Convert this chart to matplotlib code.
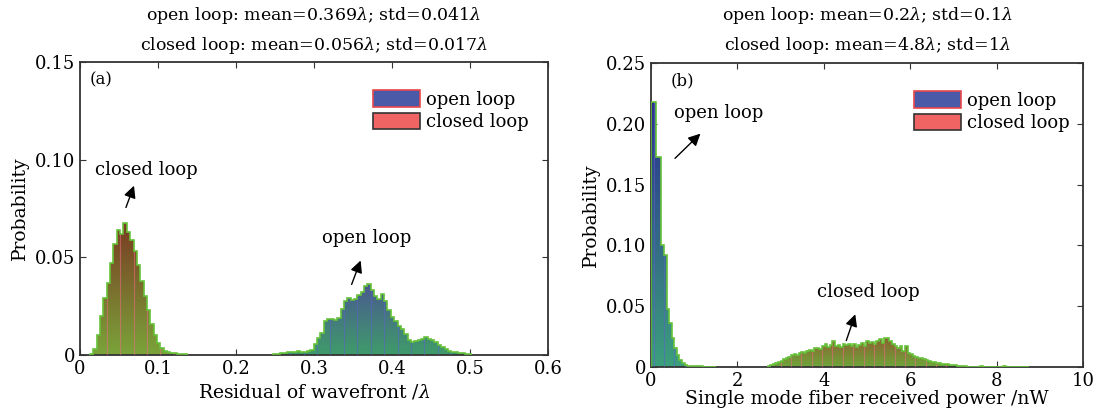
import numpy as np
import matplotlib
matplotlib.use("Agg")
import matplotlib.pyplot as plt
from matplotlib.patches import Patch, PathPatch
from matplotlib.path import Path
from matplotlib.colors import LinearSegmentedColormap
from matplotlib.ticker import FuncFormatter

plt.rcParams['font.family'] = ['DejaVu Serif']
plt.rcParams['mathtext.fontset'] = 'dejavuserif'

# ---- (a) residual of wavefront, bin width ~0.0043 lambda
a_bw = 0.0043
a_closed_start = 0.0128
a_closed = [0.0006, 0.0030, 0.0100, 0.0200, 0.0290, 0.0370, 0.0470, 0.0570, 0.0640,
            0.0620, 0.0678, 0.0630, 0.0590, 0.0530, 0.0460, 0.0380, 0.0300, 0.0230,
            0.0160, 0.0100, 0.0060, 0.0035, 0.0022, 0.0015, 0.0012, 0.0010, 0.0007,
            0.0005, 0.0004]
a_open_start = 0.2480
a_open = [0.0003, 0.0007, 0.0009, 0.0012, 0.0014, 0.0017, 0.0015, 0.0019, 0.0017,
          0.0015, 0.0019, 0.0026, 0.0055, 0.0085, 0.0115, 0.0175, 0.0186, 0.0183,
          0.0179, 0.0188, 0.0235, 0.0276, 0.0294, 0.0283, 0.0286, 0.0307, 0.0324,
          0.0355, 0.0362, 0.0335, 0.0300, 0.0289, 0.0312, 0.0278, 0.0232, 0.0195,
          0.0172, 0.0150, 0.0135, 0.0110, 0.0078, 0.0068, 0.0070, 0.0076, 0.0082,
          0.0090, 0.0080, 0.0075, 0.0065, 0.0052, 0.0040, 0.0030, 0.0022, 0.0017,
          0.0013, 0.0010, 0.0008, 0.0006, 0.0004]

# ---- (b) single mode fiber received power (nW), bin width 0.06
b_bw = 0.06
b_open_start = 0.0
b_open = [0.218, 0.218, 0.173, 0.173, 0.100, 0.092, 0.048, 0.036, 0.024, 0.0155,
          0.010, 0.006, 0.003, 0.002, 0.0012, 0.0010, 0.0008, 0.0006, 0.0005, 0.0004,
          0.0, 0.0003, 0.0, 0.0, 0.0002]
b_closed_start = 2.70
b_closed = [0.0008, 0.0015, 0.0025, 0.0035, 0.0045, 0.0050, 0.0062, 0.0075, 0.0085,
            0.0095, 0.0105, 0.0098, 0.0118, 0.0125, 0.0112, 0.0135, 0.0140, 0.0128,
            0.0155, 0.0160, 0.0148, 0.0175, 0.0190, 0.0168, 0.0180, 0.0214, 0.0170,
            0.0182, 0.0165, 0.0188, 0.0178, 0.0190, 0.0172, 0.0185, 0.0168, 0.0180,
            0.0200, 0.0176, 0.0214, 0.0195, 0.0205, 0.0188, 0.0210, 0.0227, 0.0200,
            0.0236, 0.0240, 0.0214, 0.0190, 0.0173, 0.0160, 0.0175, 0.0130, 0.0173,
            0.0118, 0.0110, 0.0090, 0.0085, 0.0077, 0.0070, 0.0063, 0.0058, 0.0050,
            0.0044, 0.0040, 0.0036, 0.0032, 0.0027, 0.0024, 0.0022, 0.0019, 0.0016,
            0.0013, 0.0010, 0.0008, 0.0006, 0.0004, 0.0003, 0.0002, 0.0, 0.0003, 0.0,
            0.0004, 0.0, 0.0, 0.0002, 0.0, 0.0, 0.0003, 0.0, 0.0, 0.0008, 0.0, 0.0,
            0.0, 0.0002, 0.0, 0.0, 0.0003, 0.0, 0.0002]

GREEN = '#66c23a'


def gradient_hist(ax, start, bw, heights, bottom_col, top_col, line_col):
    heights = np.asarray(heights)
    edges = start + bw * np.arange(len(heights) + 1)
    bars = ax.bar(edges[:-1], heights, width=bw, align='edge',
                  facecolor='none', edgecolor='none', zorder=3)
    path = Path.make_compound_path(
        *[b.get_path().transformed(b.get_patch_transform()) for b in bars])
    clip = PathPatch(path, transform=ax.transData, facecolor='none',
                     edgecolor='none')
    ax.add_patch(clip)
    cmap = LinearSegmentedColormap.from_list('g', [bottom_col, top_col])
    im = ax.imshow(np.linspace(0, 1, 256).reshape(-1, 1), cmap=cmap,
                   origin='lower', aspect='auto', zorder=2,
                   extent=[edges[0], edges[-1], 0, heights.max()])
    im.set_clip_path(clip)
    # a few bar edges show through, as in the original raster
    ax.vlines(edges[1:-1:4], 0, np.minimum(heights[:-1], heights[1:])[::4],
              color=line_col, linewidth=0.8, alpha=0.55, zorder=3)
    ax.stairs(heights, edges, color=GREEN, linewidth=1.2, zorder=4)


def style(ax, xlim, ylim, xticks, yticks):
    ax.set_xlim(*xlim)
    ax.set_ylim(*ylim)
    ax.set_xticks(xticks)
    ax.set_yticks(yticks)
    ax.tick_params(direction='in', top=True, right=True, labelsize=13,
                   length=4, color='#333333')
    for s in ax.spines.values():
        s.set_linewidth(1.3)
        s.set_color('#333333')


fig = plt.figure(figsize=(11, 4.15), dpi=100)
axa = fig.add_axes([0.0727, 0.1446, 0.4255, 0.706])
axb = fig.add_axes([0.5918, 0.1157, 0.3927, 0.7325])

# panel (a)
gradient_hist(axa, a_closed_start, a_bw, a_closed, '#7aa43a', '#7a3a22', '#ee6a86')
gradient_hist(axa, a_open_start, a_bw, a_open, '#3f9c6a', '#4a5a90', '#5a64c8')
style(axa, (0, 0.6), (0, 0.15), [0, 0.1, 0.2, 0.3, 0.4, 0.5, 0.6], [0, 0.05, 0.10, 0.15])
axa.xaxis.set_major_formatter(FuncFormatter(lambda v, p: '0' if v == 0 else f'{v:.1f}'))
axa.yaxis.set_major_formatter(FuncFormatter(lambda v, p: '0' if v == 0 else f'{v:.2f}'))
axa.set_xlabel(r'Residual of wavefront /$\lambda$', fontsize=13.5, labelpad=3)
axa.set_ylabel('Probability', fontsize=13.5, labelpad=4)
axa.set_title('open loop: mean=0.369$\\lambda$; std=0.041$\\lambda$\n'
              'closed loop: mean=0.056$\\lambda$; std=0.017$\\lambda$',
              fontsize=12.5, linespacing=1.6, pad=9)
axa.text(0.02, 0.94, '(a)', transform=axa.transAxes, fontsize=12, va='center')
axa.annotate('', xy=(0.0705, 0.088), xytext=(0.0577, 0.0742),
             arrowprops=dict(arrowstyle='-|>', color='black', lw=1, mutation_scale=18))
axa.text(0.085, 0.0947, 'closed loop', fontsize=13, ha='center', va='center')
axa.annotate('', xy=(0.361, 0.0497), xytext=(0.347, 0.0348),
             arrowprops=dict(arrowstyle='-|>', color='black', lw=1, mutation_scale=18))
axa.text(0.367, 0.0599, 'open loop', fontsize=13, ha='center', va='center')

# panel (b)
gradient_hist(axb, b_open_start, b_bw, b_open, '#3ca07c', '#2a2e90', '#5a64c8')
gradient_hist(axb, b_closed_start, b_bw, b_closed, '#6ea63a', '#8c6030', '#ee6a86')
style(axb, (0, 10), (0, 0.25), [0, 2, 4, 6, 8, 10], [0, 0.05, 0.10, 0.15, 0.20, 0.25])
axb.yaxis.set_major_formatter(FuncFormatter(lambda v, p: '0' if v == 0 else f'{v:.2f}'))
axb.set_xlabel('Single mode fiber received power /nW', fontsize=13.5, labelpad=0)
axb.set_ylabel('Probability', fontsize=13.5, labelpad=4)
axb.set_title('open loop: mean=0.2$\\lambda$; std=0.1$\\lambda$\n'
              'closed loop: mean=4.8$\\lambda$; std=1$\\lambda$',
              fontsize=12.5, linespacing=1.6, pad=9)
axb.text(0.045, 0.94, '(b)', transform=axb.transAxes, fontsize=12, va='center')
axb.annotate('', xy=(1.19, 0.1935), xytext=(0.51, 0.170),
             arrowprops=dict(arrowstyle='-|>', color='black', lw=1, mutation_scale=18))
axb.text(1.56, 0.209, 'open loop', fontsize=13, ha='center', va='center')
axb.annotate('', xy=(4.75, 0.0455), xytext=(4.5, 0.0195),
             arrowprops=dict(arrowstyle='-|>', color='black', lw=1, mutation_scale=18))
axb.text(5.04, 0.062, 'closed loop', fontsize=13, ha='center', va='center')

handles = [Patch(facecolor='#4a5aa8', edgecolor='#e84848', linewidth=1.2, label='open loop'),
           Patch(facecolor='#f06464', edgecolor='#333333', linewidth=1.2, label='closed loop')]
for ax, loc in [(axa, (0.6, 0.72)), (axb, (0.58, 0.73))]:
    ax.legend(handles=handles, loc='lower left', bbox_to_anchor=loc, frameon=False,
              fontsize=13, handlelength=2.6, handleheight=1.0, handletextpad=0.3,
              labelspacing=0.25, borderpad=0.2)

fig.savefig('out.png', dpi=100)
